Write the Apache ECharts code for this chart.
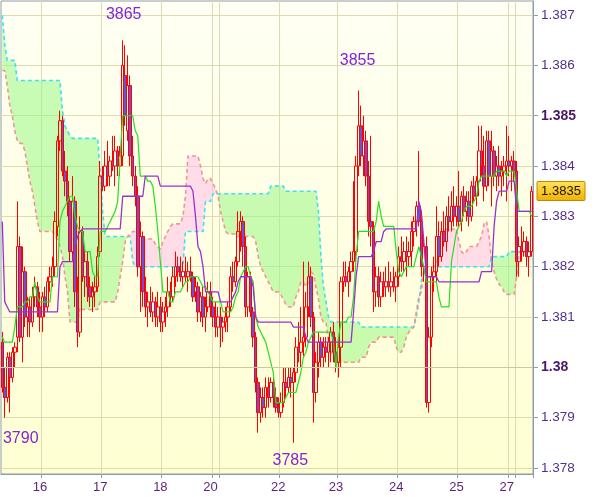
<!DOCTYPE html>
<html><head><meta charset="utf-8">
<script src="https://cdn.jsdelivr.net/npm/echarts@6/dist/echarts.min.js"></script>
<style>html,body{margin:0;padding:0;background:#fff}#c{width:600px;height:497px}</style>
</head><body><div id="c"></div>
<script>
// ---- DATA ----
const dayNames  = ['15','16','17','18','20','21','22','23','24','25','27','28'];
const dayCounts = [16,24,24,20,3,24,23,24,24,20,3,7];
const labelDays = ['16','17','18','20','22','23','24','25','27'];
const yTicks = [1.378,1.379,1.380,1.381,1.382,1.383,1.384,1.385,1.386,1.387];
const boldTicks = [1.380,1.385];

const open = [1.3805,1.3796,1.3794,1.3802,1.3798,1.3803,1.3806,1.3824,1.3806,1.3819,
1.3810,1.3812,1.3809,1.3814,1.3816,1.3812,1.3810,1.3814,1.3812,1.3817,
1.3818,1.3820,1.3828,1.3845,1.3849,1.3839,1.3837,1.3833,1.3823,1.3833,
1.3815,1.3807,1.3827,1.3818,1.3821,1.3816,1.3814,1.3815,1.3816,1.3823,
1.3838,1.3836,1.3840,1.3838,1.3841,1.3840,1.3843,1.3840,1.3842,1.3858,
1.3847,1.3856,1.3842,1.3838,1.3834,1.3820,1.3826,1.3815,1.3812,1.3813,
1.3811,1.3813,1.3810,1.3812,1.3809,1.3811,1.3812,1.3815,1.3814,1.3818,
1.3820,1.3819,1.3818,1.3819,1.3818,1.3819,1.3818,1.3815,1.3816,1.3811,
1.3814,1.3810,1.3812,1.3815,1.3812,1.3810,1.3808,1.3810,1.3808,1.3809,
1.3810,1.3812,1.3818,1.3817,1.3821,1.3827,1.3829,1.3824,1.3812,1.3818,
1.3811,1.3806,1.3797,1.3791,1.3794,1.3792,1.3796,1.3794,1.3797,1.3794,
1.3792,1.3791,1.3793,1.3797,1.3796,1.3798,1.3797,1.3799,1.3804,1.3803,
1.3805,1.3806,1.3812,1.3818,1.3810,1.3795,1.3801,1.3805,1.3802,1.3804,
1.3803,1.3805,1.3807,1.3803,1.3801,1.3804,1.3817,1.3818,1.3817,1.3819,
1.3821,1.3823,1.3840,1.3848,1.3842,1.3845,1.3838,1.3829,1.3828,1.3815,
1.3818,1.3814,1.3817,1.3816,1.3817,1.3816,1.3817,1.3816,1.3818,1.3822,
1.3821,1.3823,1.3822,1.3823,1.3827,1.3829,1.3832,1.3829,1.3820,1.3824,
1.3793,1.3806,1.3818,1.3819,1.3826,1.3822,1.3827,1.3825,1.3830,1.3829,
1.3832,1.3830,1.3832,1.3829,1.3834,1.3831,1.3833,1.3830,1.3836,1.3834,
1.3837,1.3843,1.3840,1.3836,1.3845,1.3838,1.3843,1.3838,1.3840,1.3838,
1.3839,1.3840,1.3841,1.3840,1.3841,1.3839,1.3821,1.3824,1.3823,1.3825,
1.3822,1.3823];

const high = [1.3807,1.3800,1.3803,1.3803,1.3804,1.3805,1.3833,1.3826,1.3824,1.3820,
1.3814,1.3814,1.3816,1.3818,1.3817,1.3815,1.3815,1.3816,1.3818,1.3820,
1.3822,1.3831,1.3846,1.3851,1.3850,1.3843,1.3840,1.3834,1.3838,1.3834,
1.3818,1.3830,1.3828,1.3824,1.3823,1.3818,1.3817,1.3818,1.3824,1.3841,
1.3840,1.3843,1.3845,1.3842,1.3846,1.3846,1.3844,1.3844,1.3865,1.3864,
1.3862,1.3858,1.3846,1.3840,1.3836,1.3829,1.3827,1.3818,1.3815,1.3816,
1.3815,1.3814,1.3815,1.3814,1.3813,1.3814,1.3818,1.3817,1.3820,1.3823,
1.3822,1.3822,1.3821,1.3822,1.3821,1.3822,1.3819,1.3818,1.3817,1.3815,
1.3816,1.3814,1.3817,1.3817,1.3814,1.3813,1.3812,1.3812,1.3810,1.3812,
1.3813,1.3820,1.3821,1.3822,1.3831,1.3831,1.3830,1.3826,1.3819,1.3819,
1.3812,1.3807,1.3798,1.3796,1.3796,1.3798,1.3798,1.3798,1.3798,1.3796,
1.3794,1.3795,1.3800,1.3800,1.3800,1.3800,1.3800,1.3806,1.3809,1.3812,
1.3821,1.3815,1.3821,1.3820,1.3811,1.3803,1.3807,1.3806,1.3806,1.3806,
1.3806,1.3808,1.3809,1.3806,1.3806,1.3818,1.3821,1.3821,1.3820,1.3823,
1.3837,1.3842,1.3855,1.3852,1.3850,1.3847,1.3841,1.3846,1.3829,1.3820,
1.3820,1.3819,1.3819,1.3820,1.3821,1.3819,1.3820,1.3819,1.3824,1.3826,
1.3825,1.3826,1.3825,1.3829,1.3830,1.3833,1.3843,1.3831,1.3826,1.3826,
1.3808,1.3820,1.3822,1.3832,1.3829,1.3829,1.3831,1.3832,1.3834,1.3835,
1.3836,1.3834,1.3839,1.3835,1.3836,1.3835,1.3835,1.3837,1.3838,1.3838,
1.3848,1.3848,1.3846,1.3847,1.3847,1.3847,1.3844,1.3842,1.3844,1.3841,
1.3842,1.3848,1.3846,1.3842,1.3843,1.3841,1.3826,1.3828,1.3827,1.3826,
1.3825,1.3836];

const low = [1.3795,1.3790,1.3793,1.3791,1.3797,1.3800,1.3803,1.3805,1.3801,1.3808,
1.3806,1.3806,1.3808,1.3812,1.3810,1.3807,1.3807,1.3810,1.3811,1.3815,
1.3816,1.3818,1.3826,1.3843,1.3838,1.3834,1.3830,1.3821,1.3821,1.3812,
1.3804,1.3806,1.3817,1.3814,1.3813,1.3812,1.3811,1.3812,1.3815,1.3822,
1.3835,1.3835,1.3836,1.3836,1.3839,1.3836,1.3838,1.3838,1.3840,1.3848,
1.3845,1.3840,1.3836,1.3832,1.3818,1.3811,1.3812,1.3810,1.3808,1.3810,
1.3809,1.3808,1.3808,1.3807,1.3807,1.3808,1.3810,1.3812,1.3813,1.3816,
1.3817,1.3817,1.3816,1.3817,1.3815,1.3817,1.3813,1.3813,1.3809,1.3809,
1.3808,1.3807,1.3811,1.3810,1.3808,1.3806,1.3806,1.3804,1.3805,1.3807,
1.3807,1.3811,1.3815,1.3816,1.3820,1.3823,1.3820,1.3810,1.3810,1.3810,
1.3804,1.3795,1.3787,1.3789,1.3790,1.3790,1.3792,1.3793,1.3792,1.3791,
1.3790,1.3790,1.3792,1.3794,1.3795,1.3794,1.3785,1.3797,1.3801,1.3800,
1.3802,1.3804,1.3810,1.3808,1.3789,1.3793,1.3798,1.3800,1.3800,1.3801,
1.3800,1.3801,1.3801,1.3799,1.3798,1.3800,1.3815,1.3816,1.3814,1.3817,
1.3819,1.3821,1.3838,1.3840,1.3838,1.3836,1.3826,1.3824,1.3811,1.3812,
1.3812,1.3812,1.3814,1.3814,1.3815,1.3814,1.3815,1.3813,1.3816,1.3819,
1.3819,1.3818,1.3820,1.3820,1.3824,1.3826,1.3828,1.3818,1.3817,1.3792,
1.3791,1.3804,1.3815,1.3817,1.3820,1.3821,1.3824,1.3823,1.3827,1.3827,
1.3828,1.3828,1.3828,1.3827,1.3830,1.3829,1.3828,1.3829,1.3833,1.3832,
1.3834,1.3838,1.3833,1.3835,1.3836,1.3832,1.3836,1.3835,1.3836,1.3834,
1.3836,1.3833,1.3838,1.3835,1.3837,1.3818,1.3818,1.3821,1.3822,1.3820,
1.3818,1.3822];

const close = [1.3796,1.3794,1.3802,1.3798,1.3803,1.3804,1.3824,1.3806,1.3819,1.3810,
1.3812,1.3809,1.3814,1.3816,1.3812,1.3810,1.3814,1.3812,1.3817,1.3818,
1.3820,1.3829,1.3845,1.3849,1.3839,1.3837,1.3833,1.3823,1.3833,1.3815,
1.3807,1.3827,1.3818,1.3821,1.3816,1.3814,1.3815,1.3816,1.3822,1.3838,
1.3836,1.3840,1.3838,1.3841,1.3840,1.3843,1.3840,1.3842,1.3860,1.3850,
1.3856,1.3842,1.3838,1.3834,1.3820,1.3826,1.3815,1.3812,1.3813,1.3811,
1.3813,1.3810,1.3812,1.3809,1.3811,1.3812,1.3815,1.3814,1.3818,1.3820,
1.3819,1.3818,1.3819,1.3818,1.3819,1.3818,1.3814,1.3816,1.3811,1.3814,
1.3810,1.3812,1.3815,1.3812,1.3810,1.3808,1.3810,1.3808,1.3809,1.3810,
1.3812,1.3818,1.3817,1.3821,1.3827,1.3829,1.3824,1.3812,1.3818,1.3811,
1.3806,1.3797,1.3791,1.3794,1.3792,1.3796,1.3794,1.3797,1.3794,1.3792,
1.3791,1.3793,1.3797,1.3796,1.3798,1.3797,1.3799,1.3804,1.3803,1.3805,
1.3806,1.3812,1.3818,1.3810,1.3795,1.3801,1.3805,1.3802,1.3804,1.3803,
1.3805,1.3807,1.3803,1.3801,1.3804,1.3817,1.3818,1.3817,1.3819,1.3821,
1.3823,1.3840,1.3848,1.3842,1.3845,1.3838,1.3829,1.3828,1.3815,1.3818,
1.3814,1.3817,1.3816,1.3817,1.3816,1.3817,1.3816,1.3818,1.3822,1.3821,
1.3823,1.3822,1.3823,1.3827,1.3829,1.3832,1.3829,1.3820,1.3824,1.3793,
1.3806,1.3818,1.3819,1.3826,1.3822,1.3827,1.3825,1.3830,1.3829,1.3832,
1.3830,1.3832,1.3829,1.3834,1.3831,1.3833,1.3830,1.3836,1.3834,1.3837,
1.3843,1.3840,1.3836,1.3845,1.3838,1.3843,1.3838,1.3840,1.3838,1.3839,
1.3840,1.3841,1.3840,1.3841,1.3839,1.3821,1.3824,1.3823,1.3825,1.3822,
1.3823,1.3835];

const tenkan = [1.3806,1.3805,1.3805,1.3805,1.3805,1.3808,1.3812,1.3812,1.3812,1.3813,
1.3813,1.3814,1.3814,1.3817,1.3814,1.3813,1.3813,1.3813,1.3813,1.3813,
1.3818,1.3818,1.3818,1.3829,1.3831,1.3832,1.3833,1.3834,1.3834,1.3830,
1.3828,1.3827,1.3827,1.3823,1.3823,1.3823,1.3819,1.3818,1.3818,1.3827,
1.3827,1.3827,1.3828,1.3829,1.3830,1.3831,1.3833,1.3842,1.3850,1.3850,
1.3850,1.3850,1.3850,1.3847,1.3846,1.3838,1.3838,1.3838,1.3837,1.3837,
1.3836,1.3832,1.3827,1.3821,1.3815,1.3815,1.3815,1.3813,1.3813,1.3815,
1.3815,1.3815,1.3816,1.3817,1.3817,1.3818,1.3818,1.3818,1.3818,1.3817,
1.3816,1.3816,1.3815,1.3814,1.3813,1.3813,1.3813,1.3813,1.3811,1.3811,
1.3811,1.3811,1.3812,1.3814,1.3815,1.3818,1.3819,1.3820,1.3820,1.3818,
1.3817,1.3810,1.3808,1.3807,1.3806,1.3805,1.3803,1.3801,1.3799,1.3793,
1.3793,1.3793,1.3793,1.3794,1.3795,1.3795,1.3795,1.3795,1.3797,1.3799,
1.3802,1.3803,1.3805,1.3806,1.3807,1.3807,1.3807,1.3807,1.3807,1.3807,
1.3807,1.3807,1.3805,1.3800,1.3806,1.3809,1.3809,1.3809,1.3810,1.3810,
1.3814,1.3822,1.3827,1.3827,1.3827,1.3827,1.3827,1.3827,1.3827,1.3829,
1.3833,1.3830,1.3828,1.3828,1.3828,1.3828,1.3828,1.3823,1.3819,1.3818,
1.3819,1.3820,1.3820,1.3820,1.3820,1.3822,1.3824,1.3822,1.3820,1.3817,
1.3817,1.3817,1.3817,1.3817,1.3814,1.3812,1.3812,1.3812,1.3812,1.3821,
1.3824,1.3827,1.3828,1.3829,1.3831,1.3832,1.3832,1.3832,1.3833,1.3834,
1.3837,1.3838,1.3838,1.3838,1.3838,1.3838,1.3838,1.3839,1.3839,1.3839,
1.3839,1.3838,1.3839,1.3839,1.3839,1.3835,1.3831,1.3831,1.3831,1.3831,
1.3831,1.3830];

const kijun = [1.3829,1.3813,1.3812,1.3811,1.3811,1.3811,1.3811,1.3811,1.3811,1.3811,
1.3811,1.3811,1.3811,1.3811,1.3811,1.3811,1.3811,1.3811,1.3811,1.3811,
1.3811,1.3811,1.3811,1.3820,1.3821,1.3821,1.3821,1.3821,1.3821,1.3824,
1.3826,1.3827,1.38275,1.38275,1.38275,1.38275,1.38275,1.38275,1.38275,1.38275,
1.38275,1.38275,1.38275,1.38275,1.38275,1.38275,1.38275,1.38275,1.3834,1.3834,
1.3834,1.3834,1.3834,1.3834,1.3834,1.3834,1.3834,1.3838,1.3838,1.3838,
1.3838,1.3838,1.3838,1.3836,1.3836,1.3836,1.3836,1.3836,1.3836,1.3836,
1.3836,1.3836,1.3836,1.3836,1.3836,1.3836,1.3835,1.3830,1.3824,1.3823,
1.3820,1.3815,1.3815,1.3815,1.3815,1.3815,1.3815,1.3813,1.3813,1.3813,
1.3813,1.3813,1.3814,1.3815,1.3817,1.3818,1.3818,1.3818,1.3818,1.3818,
1.3816,1.3810,1.3809,1.3809,1.3809,1.3809,1.3809,1.3809,1.3809,1.3809,
1.3809,1.3809,1.3809,1.3809,1.3809,1.3809,1.3808,1.3808,1.3808,1.3808,
1.3808,1.3806,1.3805,1.3805,1.3805,1.3805,1.3805,1.3805,1.3805,1.3805,
1.3805,1.3805,1.3805,1.3805,1.3805,1.3805,1.3805,1.3805,1.3805,1.3805,
1.3811,1.3818,1.3822,1.3822,1.3822,1.3822,1.3822,1.3822,1.3823,1.3825,
1.3825,1.3825,1.3827,1.38275,1.38275,1.38275,1.38275,1.38275,1.38275,1.38275,
1.38275,1.38275,1.38275,1.38275,1.38275,1.38275,1.3833,1.3831,1.3825,1.3818,
1.3818,1.3818,1.3818,1.3818,1.3817,1.3817,1.3817,1.3817,1.3817,1.3817,
1.3817,1.3817,1.3817,1.3817,1.3817,1.3817,1.3817,1.3817,1.3817,1.3817,
1.3817,1.3819,1.3819,1.3819,1.3819,1.3819,1.3828,1.3833,1.3835,1.3835,
1.3835,1.3835,1.3837,1.3837,1.3837,1.3831,1.3831,1.3831,1.3831,1.3831,
1.3831,1.3831];

const spanA = [1.3870,1.3864,1.3861,1.3861,1.3861,1.3861,1.3857,1.3857,1.3857,1.3857,
1.3857,1.3857,1.3857,1.3857,1.3857,1.3857,1.3857,1.3857,1.3857,1.3857,
1.3857,1.3857,1.3857,1.3857,1.3851,1.3848,1.3847,1.3846,1.38455,1.38455,
1.38455,1.38455,1.38455,1.38455,1.38455,1.38455,1.38455,1.38455,1.38455,1.3839,
1.3831,1.3826,1.3826,1.3826,1.3826,1.3826,1.3826,1.3826,1.3826,1.3826,
1.3826,1.3826,1.3821,1.3820,1.3820,1.3820,1.3820,1.3820,1.3820,1.3820,
1.3820,1.3820,1.3820,1.3820,1.3820,1.3820,1.3820,1.3820,1.3820,1.3820,
1.3820,1.3820,1.3820,1.3827,1.3827,1.3827,1.3827,1.3827,1.3827,1.3827,
1.3827,1.3833,1.3833,1.3833,1.38345,1.38345,1.38345,1.38345,1.38345,1.38345,
1.38345,1.38345,1.38345,1.38345,1.38345,1.38345,1.38345,1.38345,1.38345,1.38345,
1.38345,1.38345,1.38345,1.38345,1.38345,1.38345,1.38345,1.3836,1.3836,1.3836,
1.3836,1.3836,1.3836,1.3835,1.3835,1.3835,1.3835,1.3835,1.3835,1.3835,
1.3835,1.3835,1.3835,1.3835,1.3835,1.3835,1.3831,1.3822,1.3816,1.3813,
1.3810,1.3809,1.3809,1.3809,1.3809,1.3809,1.3809,1.3809,1.3809,1.3809,
1.3809,1.3809,1.3809,1.3808,1.3808,1.3808,1.3808,1.3808,1.3808,1.3808,
1.3808,1.3808,1.3808,1.3808,1.3808,1.3808,1.3808,1.3808,1.3808,1.3808,
1.3808,1.3808,1.3808,1.3808,1.3808,1.3810,1.3813,1.3817,1.3819,1.3820,
1.3820,1.3820,1.3820,1.3820,1.3820,1.3820,1.3820,1.3820,1.3820,1.3820,
1.3820,1.3820,1.3820,1.3820,1.3820,1.3820,1.3820,1.3820,1.3820,1.3820,
1.3820,1.3820,1.3820,1.3820,1.3820,1.3822,1.3822,1.3822,1.3822,1.3822,
1.3822,1.3822,1.3823,1.3823,1.3823,1.3823,1.3823,1.3823,1.3823,1.3823,
1.3823,1.3823];

const spanB = [1.3859,1.3859,1.3856,1.3852,1.3850,1.3847,1.3845,1.38445,1.38445,1.3843,
1.3840,1.3837,1.3835,1.3832,1.3829,1.3827,1.3827,1.3827,1.3827,1.3827,
1.3827,1.3826,1.38255,1.3824,1.3822,1.3818,1.3815,1.3809,1.3809,1.3809,
1.3809,1.3812,1.38115,1.38115,1.38115,1.38115,1.38115,1.38115,1.38115,1.3813,
1.3813,1.3813,1.3813,1.3813,1.3813,1.3813,1.3815,1.3818,1.3821,1.3825,
1.3826,1.38265,1.3827,1.3827,1.3827,1.3826,1.38255,1.38255,1.38255,1.38255,
1.38255,1.38245,1.3824,1.38235,1.3825,1.3826,1.3827,1.3828,1.38285,1.38285,
1.38285,1.38285,1.3830,1.3834,1.3842,1.3842,1.3842,1.3842,1.3842,1.3840,
1.38375,1.38365,1.38375,1.38375,1.38365,1.38355,1.3834,1.3831,1.3829,1.3827,
1.38265,1.38265,1.38265,1.38265,1.3826,1.3826,1.3826,1.3826,1.3826,1.3826,
1.3826,1.3825,1.3822,1.3820,1.3819,1.3818,1.3817,1.3816,1.3815,1.3815,
1.3815,1.38145,1.38135,1.38125,1.3812,1.3812,1.3812,1.3814,1.3815,1.3817,
1.3817,1.3816,1.3817,1.3819,1.38185,1.3816,1.38135,1.3810,1.3809,1.3809,
1.3805,1.3803,1.3802,1.3801,1.3801,1.3801,1.3801,1.3801,1.3801,1.3801,
1.3801,1.3801,1.3801,1.3802,1.3802,1.3802,1.3804,1.3805,1.3805,1.3805,
1.3806,1.3806,1.3806,1.3806,1.3806,1.3806,1.3806,1.3804,1.3803,1.3803,
1.3804,1.3806,1.3807,1.38075,1.3808,1.3811,1.3814,1.3815,1.3819,1.3820,
1.3820,1.3820,1.3820,1.38205,1.3823,1.3827,1.3827,1.38275,1.38275,1.38275,
1.38275,1.38275,1.3825,1.3823,1.38225,1.3823,1.3824,1.3824,1.3824,1.3824,
1.3825,1.3826,1.38285,1.3829,1.3826,1.3821,1.3819,1.38175,1.38165,1.3816,
1.3815,1.38145,1.38145,1.38145,1.38145,1.3818,1.3823,1.3823,1.3823,1.3823,
1.3823,1.3823];

const extremeIdx  = [48, 142, 1, 116];
const extremeVal  = [1.3865, 1.3855, 1.3790, 1.3785];
const extremeText = ['3865', '3855', '3790', '3785'];
const extremeKind = ['high', 'high', 'low', 'low'];

// ---- BUILD ----
const categories = [];
const dayStart = {};
dayNames.forEach((d, k) => {
  dayStart[d] = categories.length;
  for (let h = 0; h < dayCounts[k]; h++) categories.push(d + ' ' + h);
});
const boundarySet = new Set(dayNames.slice(1).map(d => dayStart[d]));
const labelSet = new Set(labelDays.map(d => dayStart[d]));

const candles = open.map((o, i) => [o, close[i], low[i], high[i]]);
const cloudBase  = spanA.map((a, i) => Math.min(a, spanB[i]));
const cloudGreen = spanA.map((a, i) => Math.max(a - spanB[i], 0));
const cloudPink  = spanA.map((a, i) => Math.max(spanB[i] - a, 0));
const lastPrice = close[close.length - 1];

const FONT = '"Liberation Sans", Arial, Helvetica, sans-serif';
const gridColor = '#dcdcb4';
const axisGrey = '#8e9ea8';
const GRID = {left: 1, right: 67, top: 1, bottom: 23};
const labelLayout = [
  {distance: 18, offset: [1, 0]},
  {distance: 22, offset: [-1, 0]},
  {distance: 13, offset: [16, 0]},
  {distance: 10, offset: [-3, 0]}
];

const chart = echarts.init(document.getElementById('c'));
chart.setOption({
  animation: false,
  backgroundColor: '#ffffff',
  grid: Object.assign({}, GRID, {
    show: true, borderColor: axisGrey, borderWidth: 1,
    backgroundColor: new echarts.graphic.LinearGradient(0, 0, 0, 1, [
      {offset: 0, color: '#fffff4'}, {offset: 1, color: '#ffffd2'}
    ])
  }),
  xAxis: {
    type: 'category', data: categories, boundaryGap: true,
    axisLine: {show: true, lineStyle: {color: axisGrey}},
    axisTick: {show: true, interval: i => boundarySet.has(i), length: 4, lineStyle: {color: axisGrey}},
    axisLabel: {
      interval: i => labelSet.has(i), formatter: v => v.split(' ')[0],
      color: '#5c1f7a', fontSize: 13, fontFamily: FONT, margin: 7, padding: [0, 5, 0, 0]
    },
    splitLine: {show: true, interval: i => boundarySet.has(i), lineStyle: {color: gridColor}}
  },
  yAxis: {
    type: 'value', position: 'right', scale: true,
    min: 1.37788, max: 1.38728, minInterval: 0.001, maxInterval: 0.001,
    axisLine: {show: true, lineStyle: {color: axisGrey}},
    axisTick: {show: true, length: 5, lineStyle: {color: axisGrey}, customValues: yTicks},
    axisLabel: {
      customValues: yTicks, margin: 8,
      formatter: v => {
        const k = Math.round(v * 1000);
        if (Math.abs(v * 1000 - k) > 1e-6) return '';
        const s = (k / 1000).toFixed(3).replace(/0+$/, '');
        return (k % 5 === 0 ? '{b|' : '{n|') + s + '}';
      },
      rich: {
        n: {fontSize: 13.5, color: '#52308a', fontFamily: FONT},
        b: {fontSize: 14, fontWeight: 'bold', color: '#4a1868', fontFamily: FONT}
      }
    },
    splitLine: {show: true, lineStyle: {color: gridColor}}
  },
  series: [
    {type: 'line', data: cloudBase, stack: 'cloud', symbol: 'none', silent: true, z: 1,
     lineStyle: {opacity: 0},
     markLine: {symbol: 'none', silent: true, label: {show: false},
       lineStyle: {color: '#c9c99e', type: 'solid', width: 1},
       data: boldTicks.map(v => ({yAxis: v}))}},
    {type: 'line', data: cloudGreen, stack: 'cloud', symbol: 'none', silent: true, z: 1,
     lineStyle: {opacity: 0}, areaStyle: {color: 'rgba(150,248,130,0.75)'}},
    {type: 'line', data: cloudPink, stack: 'cloud', symbol: 'none', silent: true, z: 1,
     lineStyle: {opacity: 0}, areaStyle: {color: 'rgba(255,188,234,0.75)'}},
    {type: 'line', data: spanA, symbol: 'none', silent: true, z: 2,
     lineStyle: {color: '#3de2f2', width: 1.6, type: [4, 3]}},
    {type: 'line', data: spanB, symbol: 'none', silent: true, z: 2,
     lineStyle: {color: '#f39494', width: 1.6, type: [4, 3]}},
    {type: 'candlestick', data: candles, barWidth: 3, z: 3,
     itemStyle: {color: 'rgba(0,0,0,0)', color0: '#7050d0', borderColor: '#ff0000',
                 borderColor0: '#ff0000', borderColorDoji: '#ff0000', borderWidth: 1},
     markPoint: {
       symbol: 'circle', symbolSize: 0, silent: true,
       data: extremeIdx.map((idx, k) => ({
         coord: [categories[idx], extremeVal[k]], value: extremeText[k],
         label: {show: true, formatter: extremeText[k],
                 position: extremeKind[k] === 'high' ? 'top' : 'bottom',
                 distance: labelLayout[k].distance, offset: labelLayout[k].offset,
                 color: '#8424d4', fontSize: 16, fontFamily: FONT}
       }))
     }},
    {type: 'line', data: tenkan, symbol: 'none', silent: true, z: 4,
     lineStyle: {color: '#22e022', width: 1.2}},
    {type: 'line', data: kijun, symbol: 'none', silent: true, z: 4,
     lineStyle: {color: '#9b30d0', width: 1.3}}
  ]
});

// current-price tag, positioned through the y-axis scale
const py = chart.convertToPixel({yAxisIndex: 0}, lastPrice);
const axisX = chart.getWidth() - GRID.right;
chart.setOption({
  graphic: [{
    type: 'group', silent: true, z: 100,
    children: [
      {type: 'rect', shape: {x: axisX + 4, y: Math.round(py) - 9.5, width: 48, height: 19, r: 1},
       style: {fill: new echarts.graphic.LinearGradient(0, 0, 0, 1, [
                 {offset: 0, color: '#ffe45c'}, {offset: 1, color: '#f2b000'}]),
               stroke: '#c08a00', lineWidth: 1}},
      {type: 'text', style: {text: lastPrice.toFixed(4), x: axisX + 28, y: Math.round(py),
               align: 'center', verticalAlign: 'middle',
               font: '13px "Liberation Sans", Arial, sans-serif', fill: '#1a1400'}}
    ]
  }]
});
</script>
</body></html>
